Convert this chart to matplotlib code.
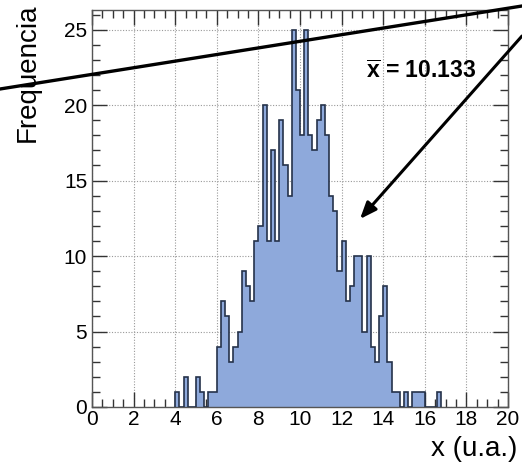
import numpy as np
import matplotlib.pyplot as plt
from matplotlib.ticker import MultipleLocator
from matplotlib.lines import Line2D

plt.rcParams['font.family'] = ['Liberation Sans', 'DejaVu Sans']
plt.rcParams['mathtext.fontset'] = 'custom'
plt.rcParams['mathtext.rm'] = 'Liberation Sans:bold'
plt.rcParams['mathtext.bf'] = 'Liberation Sans:bold'

# histogram: 0.2 wide bins starting at x = 4.0
bin_start = 4.0
bin_width = 0.2
counts = [1, 0, 2, 0, 0, 2, 1, 0, 1, 1,
          4, 7, 6, 3, 4, 5, 9, 8, 7, 11,
          12, 20, 11, 17, 11, 19, 16, 14, 25, 21,
          18, 25, 18, 17, 19, 20, 18, 14, 13, 9,
          11, 7, 8, 10, 10, 5, 10, 4, 3, 6,
          8, 3, 1, 1, 0, 1, 0, 1, 1, 1,
          0, 0, 0, 1]
mean_label = r'$\overline{\mathbf{x}}$ = 10.133'

edges = bin_start + bin_width * np.arange(len(counts) + 1)

fig = plt.figure(figsize=(5.22, 4.63), dpi=100)
ax = fig.add_axes([92/522, 56/463, 416/522, 397/463])

ax.stairs(counts, edges, fill=True, color='#8EA9DB', zorder=2)
ax.stairs(counts, edges, color='#25324a', linewidth=1.2, zorder=3)

ax.set_xlim(0, 20)
ax.set_ylim(0, 26.3)
ax.xaxis.set_major_locator(MultipleLocator(2))
ax.xaxis.set_minor_locator(MultipleLocator(0.5))
ax.yaxis.set_major_locator(MultipleLocator(5))
ax.yaxis.set_minor_locator(MultipleLocator(1))
ax.tick_params(which='both', direction='in', top=True, right=True,
               labelsize=15, color='#333333')
ax.tick_params(which='major', length=11, width=1)
ax.tick_params(which='minor', length=5.5, width=1)
ax.tick_params(axis='x', pad=2)
ax.grid(True, which='major', linestyle=(0, (1, 1.5)), color='#999999',
        linewidth=0.8, zorder=1)
ax.set_axisbelow(True)
for s in ax.spines.values():
    s.set_color('#555555')
    s.set_linewidth(1)

fig.text(28/522, 1 - 4/463, 'Frequencia', rotation=90, ha='center',
         va='top', fontsize=20)
fig.text(517/522, 1 - 449/463, 'x (u.a.)', ha='right', va='center',
         fontsize=20)

# annotations drawn over the chart
fig.add_artist(Line2D([0, 1], [1 - 89/463, 1 - 6/463], color='black',
                      linewidth=2.4, transform=fig.transFigure))
ax.annotate('', xy=(360/522, 1 - 219/463), xycoords='figure fraction',
            xytext=(522/522, 1 - 36/463), textcoords='figure fraction',
            arrowprops=dict(arrowstyle='-|>,head_length=1.0,head_width=0.4',
                            color='black', linewidth=2.2, shrinkA=0, shrinkB=0))
fig.text(421/522, 1 - 71/463, mean_label, ha='center', va='center',
         fontsize=16.5, fontweight='bold')

fig.savefig('out.png', dpi=100)
